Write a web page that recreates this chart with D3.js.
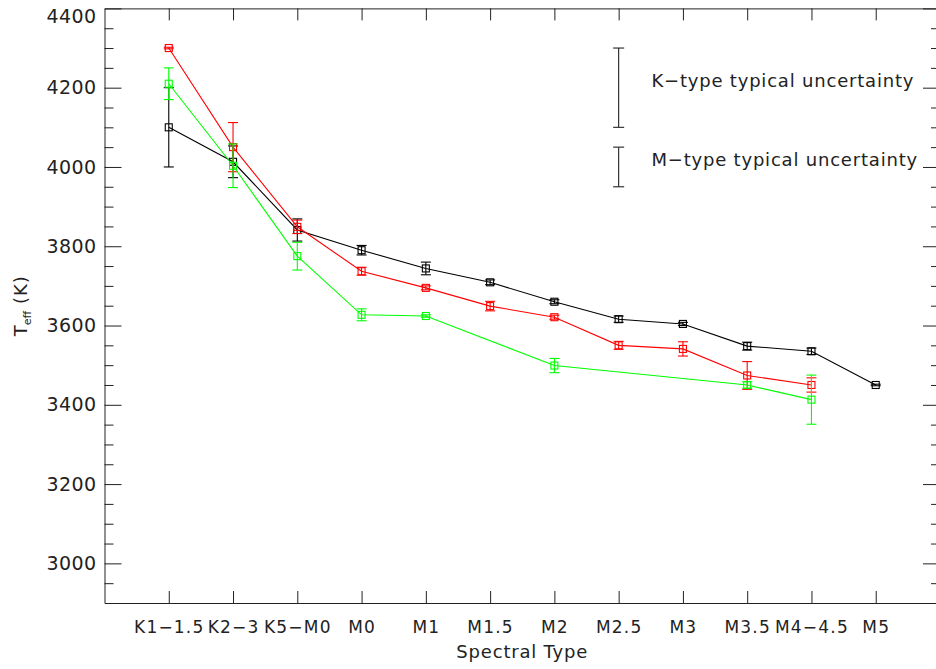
<!DOCTYPE html>
<html>
<head>
<meta charset="utf-8">
<script src="https://cdn.jsdelivr.net/npm/d3@7"></script>
<style>
    body { margin: 0; background: #fff; }
    svg { display: block; }
    .axis text { font-family: "DejaVu Sans", sans-serif; fill: #222; }
    .axis path, .axis line { stroke: #222; }
    .lbl { font-family: "DejaVu Sans", sans-serif; fill: #222; }
</style>
</head>
<body>
<div id="chart"></div>
<script>
// spectral type bins along the x axis
let categories = ['K1\u22121.5', 'K2\u22123', 'K5\u2212M0', 'M0', 'M1', 'M1.5',
    'M2', 'M2.5', 'M3', 'M3.5', 'M4\u22124.5', 'M5'];

// Teff per bin, and the error on it (null = no point)
let blackTeff = [4100, 4013, 3841, 3790, 3744, 3709, 3660, 3616, 3604, 3548, 3535, 3450];
let blackErr  = [100, 40, 28, 12, 16, 6, 5, 8, 4, 10, 8, 2];
let redTeff   = [4300, 4050, 3849, 3737, 3695, 3649, 3621, 3550, 3541, 3474, 3450, null];
let redErr    = [2, 62, 17, 10, 5, 12, 5, 10, 18, 35, 18, null];
let greenTeff = [4210, 4003, 3775, 3627, 3624, null, 3499, null, null, 3450, 3413, null];
let greenErr  = [40, 55, 35, 15, 3, null, 18, null, null, 8, 62, null];

// typical uncertainty bars drawn in the upper right
let legendLabels = ['K\u2212type typical uncertainty', 'M\u2212type typical uncertainty'];
let legendCenter = [4200, 4000];
let legendErr = [100, 50];
let legendPos = 8;

let yMajor = [3000, 3200, 3400, 3600, 3800, 4000, 4200, 4400];

let width = 936, height = 669;

let svg = d3.select('#chart').append('svg')
    .attr('width', width)
    .attr('height', height);

let x = d3.scaleLinear().domain([0, categories.length + 1]).range([104.5, 940]);
let y = d3.scaleLinear().domain([2900, 4400]).range([603, 8.4]);

let idx = d3.range(1, categories.length + 1);

// axes (ticks point inward, like the IDL plot)
let bottom = svg.append('g').attr('class', 'axis')
    .attr('transform', `translate(0,${y(2900)})`)
    .call(d3.axisBottom(x).tickValues(idx).tickSize(-12).tickSizeOuter(0)
        .tickPadding(18).tickFormat(function(d) { return categories[d - 1]; }));
bottom.selectAll('text').attr('font-size', 17).attr('letter-spacing', 1.2);

svg.append('g').attr('class', 'axis')
    .attr('transform', `translate(0,${y(4400)})`)
    .call(d3.axisTop(x).tickValues(idx).tickSize(-12).tickSizeOuter(0).tickFormat(''));

let left = svg.append('g').attr('class', 'axis')
    .attr('transform', `translate(${x(0)},0)`)
    .call(d3.axisLeft(y).tickValues(yMajor).tickSize(-17).tickSizeOuter(0).tickPadding(8)
        .tickFormat(d3.format('d')));
left.selectAll('text').attr('font-size', 19).attr('letter-spacing', 0.4);
// top label would be clipped, push it down inside the window
left.selectAll('.tick').filter(d => d == 4400).select('text').attr('dy', '0.72em');

svg.append('g').attr('class', 'axis')
    .attr('transform', `translate(${x(0)},0)`)
    .call(d3.axisLeft(y).tickValues(d3.range(2950, 4400, 50).filter(d => d % 200 != 0))
        .tickSize(-9).tickSizeOuter(0).tickFormat(''))
    .select('.domain').remove();

svg.append('g').attr('class', 'axis')
    .attr('transform', `translate(${x(categories.length + 1)},0)`)
    .call(d3.axisRight(y).tickValues(yMajor).tickSize(-17).tickSizeOuter(0).tickFormat(''));

svg.append('g').attr('class', 'axis')
    .attr('transform', `translate(${x(categories.length + 1)},0)`)
    .call(d3.axisRight(y).tickValues(d3.range(2950, 4400, 50).filter(d => d % 200 != 0))
        .tickSize(-9).tickSizeOuter(0).tickFormat(''))
    .select('.domain').remove();

// axis titles
svg.append('text').attr('class', 'lbl')
    .attr('x', (x(0) + x(categories.length + 1)) / 2)
    .attr('y', 658)
    .attr('text-anchor', 'middle')
    .attr('font-size', 18)
    .attr('letter-spacing', 0.8)
    .text('Spectral Type');

let ytitle = svg.append('text').attr('class', 'lbl')
    .attr('transform', `translate(27,${y(3650)}) rotate(-90)`)
    .attr('text-anchor', 'middle')
    .attr('font-size', 18);
ytitle.append('tspan').text('T');
ytitle.append('tspan').attr('font-size', 11).attr('dy', 4).text('eff');
ytitle.append('tspan').attr('dy', -4).attr('letter-spacing', 1).text(' (K)');

// error bar + square symbol series
function drawSeries(teff, err, color) {
    let pts = idx.map(function(d, i) { return {i: d, v: teff[i], e: err[i]}; })
        .filter(function(p) { return p.v != null; });
    let g = svg.append('g');

    g.append('path')
        .datum(pts)
        .attr('fill', 'none')
        .attr('stroke', color)
        .attr('stroke-width', 1.1)
        .attr('d', d3.line().x(p => x(p.i)).y(p => y(p.v)));

    let bars = g.selectAll('.bar').data(pts).join('g')
        .attr('stroke', color)
        .attr('stroke-width', 1.1)
        .attr('fill', 'none');
    bars.append('line')
        .attr('x1', p => x(p.i)).attr('x2', p => x(p.i))
        .attr('y1', p => y(p.v + p.e)).attr('y2', p => y(p.v - p.e));
    bars.append('line')
        .attr('x1', p => x(p.i) - 5).attr('x2', p => x(p.i) + 5)
        .attr('y1', p => y(p.v + p.e)).attr('y2', p => y(p.v + p.e));
    bars.append('line')
        .attr('x1', p => x(p.i) - 5).attr('x2', p => x(p.i) + 5)
        .attr('y1', p => y(p.v - p.e)).attr('y2', p => y(p.v - p.e));
    bars.append('rect')
        .attr('x', p => x(p.i) - 3.5).attr('y', p => y(p.v) - 3.5)
        .attr('width', 7).attr('height', 7);
}

drawSeries(blackTeff, blackErr, '#000');
drawSeries(redTeff, redErr, '#ff0000');
drawSeries(greenTeff, greenErr, '#00ff00');

// typical uncertainty key
let key = svg.append('g').attr('stroke', '#222').attr('stroke-width', 1.1);
for (let i = 0; i < legendLabels.length; i++) {
    let hi = y(legendCenter[i] + legendErr[i]), lo = y(legendCenter[i] - legendErr[i]);
    key.append('line').attr('x1', x(legendPos)).attr('x2', x(legendPos)).attr('y1', hi).attr('y2', lo);
    key.append('line').attr('x1', x(legendPos) - 5.5).attr('x2', x(legendPos) + 5.5).attr('y1', hi).attr('y2', hi);
    key.append('line').attr('x1', x(legendPos) - 5.5).attr('x2', x(legendPos) + 5.5).attr('y1', lo).attr('y2', lo);
    svg.append('text').attr('class', 'lbl')
        .attr('x', x(legendPos + 0.51))
        .attr('y', y(legendCenter[i]) - 1)
        .attr('font-size', 18)
        .attr('letter-spacing', 0.8)
        .text(legendLabels[i]);
}
</script>
</body>
</html>
